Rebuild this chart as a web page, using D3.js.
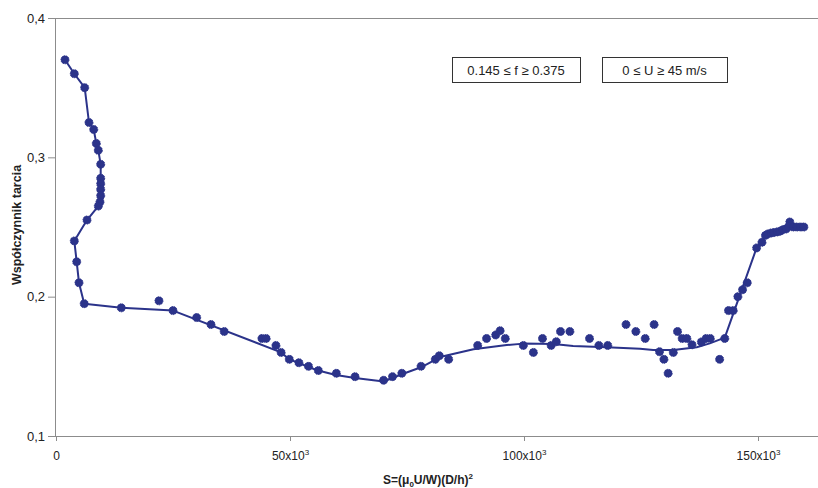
<html>
<head>
<script src="https://d3js.org/d3.v7.min.js"></script>
<style>
body { margin: 0; background: #fff; }
text { font-family: "Liberation Sans", Arial, sans-serif; fill: #222; }
.axis path, .axis line { stroke: #8c8c8c; }
</style>
</head>
<body>
<svg id="chart" width="818" height="488"></svg>
<script>
// S in thousands, f = friction coefficient
const pointS = [1.92, 3.91, 6.13, 7.05, 8.06, 8.61, 9.04, 9.55, 9.55, 9.55, 9.55, 9.55, 9.4, 9.04, 6.62, 3.91, 4.42, 4.91, 6.03,
  13.95, 22.0, 25.0, 30.06, 33.12, 35.94, 44.0, 44.9, 47.0, 48.1, 49.85, 51.9, 53.95, 56.05, 59.9, 63.9, 70.0, 71.9, 73.9,
  78.0, 81.05, 81.9, 83.9, 90.1, 92.0, 93.95, 94.9, 96.0, 99.85, 102.0, 103.95, 105.8, 106.9, 107.8, 109.8, 114.0, 116.0,
  117.9, 121.8, 123.9, 125.9, 127.8, 128.95, 129.9, 130.8, 131.9, 132.8, 133.8, 134.8, 135.9, 137.9, 138.9, 139.8, 141.8,
  142.9, 143.7, 144.7, 145.7, 146.7, 147.7, 149.7, 150.85, 151.6, 152.1, 152.8, 153.4, 154.1, 154.7, 155.3, 156.0, 156.8,
  156.6, 157.5, 158.3, 159.1, 159.8];
const pointF = [0.370, 0.360, 0.350, 0.325, 0.320, 0.310, 0.305, 0.295, 0.285, 0.281, 0.277, 0.2725, 0.268, 0.265, 0.255, 0.240, 0.225, 0.210, 0.195,
  0.192, 0.197, 0.190, 0.185, 0.180, 0.175, 0.170, 0.170, 0.165, 0.160, 0.155, 0.1526, 0.150, 0.147, 0.145, 0.1426, 0.140, 0.1426, 0.145,
  0.150, 0.155, 0.1576, 0.155, 0.165, 0.170, 0.1725, 0.1756, 0.170, 0.165, 0.160, 0.170, 0.165, 0.1677, 0.175, 0.175, 0.170, 0.165,
  0.165, 0.180, 0.175, 0.170, 0.180, 0.1605, 0.155, 0.145, 0.160, 0.175, 0.170, 0.170, 0.1655, 0.1675, 0.170, 0.170, 0.155,
  0.170, 0.190, 0.190, 0.200, 0.205, 0.210, 0.235, 0.239, 0.244, 0.245, 0.2457, 0.246, 0.2465, 0.247, 0.248, 0.2486, 0.2536,
  0.2504, 0.250, 0.250, 0.250, 0.250];

// trend line as drawn
const lineS = [1.92, 3.91, 6.13, 7.05, 8.06, 8.61, 9.04, 9.55, 9.55, 9.4, 9.04, 6.62, 3.91, 4.42, 4.91, 6.03, 13.95, 25.0,
  48.1, 49.85, 51.9, 53.95, 56.0, 59.8, 63.9, 70.0, 71.9, 73.9, 78.0, 81.0, 82.05, 89.2, 96.3, 99.85, 106.3, 110.5, 117.7,
  124.8, 127.6, 131.9, 136.9, 139.7, 142.9, 149.7, 151.6, 156.8, 160.0];
const lineF = [0.370, 0.360, 0.350, 0.325, 0.320, 0.310, 0.305, 0.295, 0.2725, 0.268, 0.265, 0.255, 0.240, 0.225, 0.210, 0.195, 0.192, 0.190,
  0.160, 0.155, 0.1524, 0.1495, 0.147, 0.1438, 0.1416, 0.1391, 0.1416, 0.1443, 0.1493, 0.1546, 0.1567, 0.1622, 0.1653, 0.1663, 0.166, 0.1646, 0.1637,
  0.1627, 0.1617, 0.1617, 0.1637, 0.1665, 0.1706, 0.235, 0.244, 0.2525, 0.250];

const yTicks = [0.1, 0.2, 0.3, 0.4];
const xTicks = [0, 50, 100, 150];
const legendTexts = ["0.145 \u2264 f \u2265 0.375", "0 \u2264 U \u2265 45 m/s"];

const color = "#2b338a";
const svg = d3.select("#chart");
const plot = {left: 56, top: 18, bottom: 436, right: 818};

const x = d3.scaleLinear().domain([0, 163]).range([plot.left, plot.left + 163 * 4.68]);
const y = d3.scaleLinear().domain([0.1, 0.4]).range([plot.bottom, plot.top]);

// frame top line
svg.append("line")
  .attr("x1", plot.left).attr("x2", plot.right).attr("y1", plot.top + 0.5).attr("y2", plot.top + 0.5)
  .attr("stroke", "#8c8c8c");

let yAxis = d3.axisLeft(y).tickValues(yTicks).tickSize(8).tickPadding(3)
  .tickFormat(d => d3.format(".1f")(d).replace(".", ","));
let gy = svg.append("g").attr("class", "axis")
  .attr("transform", `translate(${plot.left},0)`)
  .call(yAxis);
gy.select(".domain").attr("d", `M-0.5,${plot.top}V${plot.bottom}`);
gy.selectAll("text").style("font-size", "13px");

let xAxis = d3.axisBottom(x).tickValues(xTicks).tickSize(5).tickPadding(6).tickFormat("");
let gx = svg.append("g").attr("class", "axis")
  .attr("transform", `translate(0,${plot.bottom})`)
  .call(xAxis);
gx.select(".domain").attr("d", `M${plot.left},0.5H${plot.right}`);
gx.selectAll(".tick").each(function(d) {
  let t = d3.select(this).append("text")
    .attr("y", 24).attr("text-anchor", "middle")
    .style("font-size", "12px").attr("fill", "#222");
  if (d === 0) { t.text("0"); return; }
  t.append("tspan").text(d + "x10");
  t.append("tspan").attr("dy", -5).style("font-size", "8px").text("3");
});

// line
const line = d3.line().x(d => x(d[0])).y(d => y(d[1]));
svg.append("path")
  .datum(lineS.map((s, i) => [s, lineF[i]]))
  .attr("d", line)
  .attr("fill", "none")
  .attr("stroke", color)
  .attr("stroke-width", 2)
  .attr("stroke-linejoin", "round");

// points
svg.append("g").selectAll("circle")
  .data(pointS.map((s, i) => [s, pointF[i]]))
  .join("circle")
  .attr("cx", d => x(d[0]))
  .attr("cy", d => y(d[1]))
  .attr("r", 4)
  .attr("fill", color)
  .attr("stroke", color)
  .attr("stroke-width", 1)
  .attr("stroke-dasharray", "1.6,0.8");

// legend boxes
const boxX = [452, 602], boxW = [128, 125];
legendTexts.forEach((t, i) => {
  svg.append("rect")
    .attr("x", boxX[i] + 0.5).attr("y", 57.5)
    .attr("width", boxW[i]).attr("height", 25)
    .attr("fill", "#fff").attr("stroke", "#333");
  svg.append("text")
    .attr("x", boxX[i] + boxW[i] / 2).attr("y", 75)
    .attr("text-anchor", "middle")
    .style("font-size", "13px")
    .text(t);
});

// axis titles
svg.append("text")
  .attr("transform", "translate(21,225) rotate(-90)")
  .attr("text-anchor", "middle")
  .style("font-size", "12.5px").style("font-weight", "bold")
  .text("Współczynnik tarcia");

let xt = svg.append("text")
  .attr("x", 428).attr("y", 484)
  .attr("text-anchor", "middle")
  .style("font-size", "12px").style("font-weight", "bold");
xt.append("tspan").text("S=(\u03bc");
xt.append("tspan").attr("dy", 3).style("font-size", "8px").text("0");
xt.append("tspan").attr("dy", -3).text("U/W)(D/h)");
xt.append("tspan").attr("dy", -5).style("font-size", "8px").text("2");
</script>
</body>
</html>
